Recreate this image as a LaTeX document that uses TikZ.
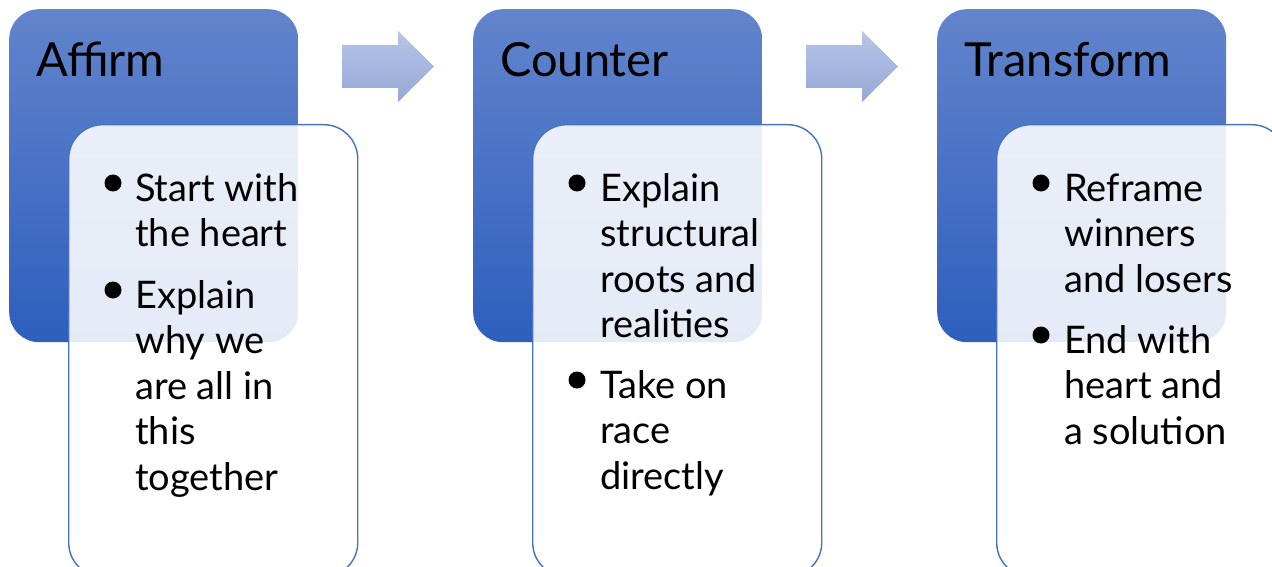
\documentclass[tikz,border=0pt]{standalone}
\usepackage{fontspec}
\setmainfont{Lato}
\definecolor{bluetop}{RGB}{98,132,204}
\definecolor{bluebot}{RGB}{46,95,189}
\definecolor{arrtop}{RGB}{182,196,229}
\definecolor{arrbot}{RGB}{150,168,214}
\definecolor{edgeblue}{RGB}{68,114,196}
\begin{document}
\begin{tikzpicture}[x=1pt,y=-1pt,
  headbox/.style={rectangle, rounded corners=30pt, minimum width=289pt, minimum height=333pt, inner sep=0pt, top color=bluetop, bottom color=bluebot, draw=none, anchor=north west},
  listbox/.style={rectangle, rounded corners=34pt, minimum width=289pt, minimum height=452pt, inner sep=0pt, fill=white, fill opacity=0.88, draw=edgeblue, draw opacity=1, line width=1.4pt, anchor=north west},
  title/.style={anchor=base west, inner sep=0pt, font=\fontsize{47}{50}\selectfont},
  itemtext/.style={anchor=base west, inner sep=0pt, align=left, font=\fontsize{38}{45.5}\selectfont},
  dot/.style={circle, fill=black, minimum size=17pt, inner sep=0pt},
  arrowshape/.style={top color=arrtop, bottom color=arrbot, draw=none}]
\clip (0,0) rectangle (1272,567);
% blue header boxes
\node[headbox] (h1) at (9,9) {};
\node[headbox] (h2) at (473,9) {};
\node[headbox] (h3) at (937,9) {};
% arrows
\shade[arrowshape] (342,45) -- (398,45) -- (398,31) -- (434,66.5) -- (398,102) -- (398,88) -- (342,88) -- cycle;
\shade[arrowshape] (806,45) -- (862,45) -- (862,31) -- (898,66.5) -- (862,102) -- (862,88) -- (806,88) -- cycle;
% list boxes
\node[listbox] (l1) at (68,124) {};
\node[listbox] (l2) at (532,124) {};
\node[listbox] (l3) at (996,124) {};
% titles
\node[title] (t1) at (36,77) {Affirm};
\node[title] (t2) at (500,77) {Counter};
\node[title] (t3) at (964,77) {Transform};
% column 1 (positions are baselines of last lines)
\node[dot] (d11) at (113,183) {};
\node[itemtext] (i11) at (135,246.5) {Start with\\the heart};
\node[dot] (d12) at (113,290) {};
\node[itemtext] (i12) at (135,490) {Explain\\why we\\are all in\\this\\together};
% column 2
\node[dot] (d21) at (577,183) {};
\node[itemtext] (i21) at (600,337.5) {Explain\\structural\\roots and\\realities};
\node[dot] (d22) at (577,380) {};
\node[itemtext] (i22) at (600,489) {Take on\\race\\directly};
% column 3
\node[dot] (d31) at (1041,183) {};
\node[itemtext] (i31) at (1064,292) {Reframe\\winners\\and losers};
\node[dot] (d32) at (1041,335) {};
\node[itemtext] (i32) at (1064,444) {End with\\heart and\\a solution};
\end{tikzpicture}
\end{document}
